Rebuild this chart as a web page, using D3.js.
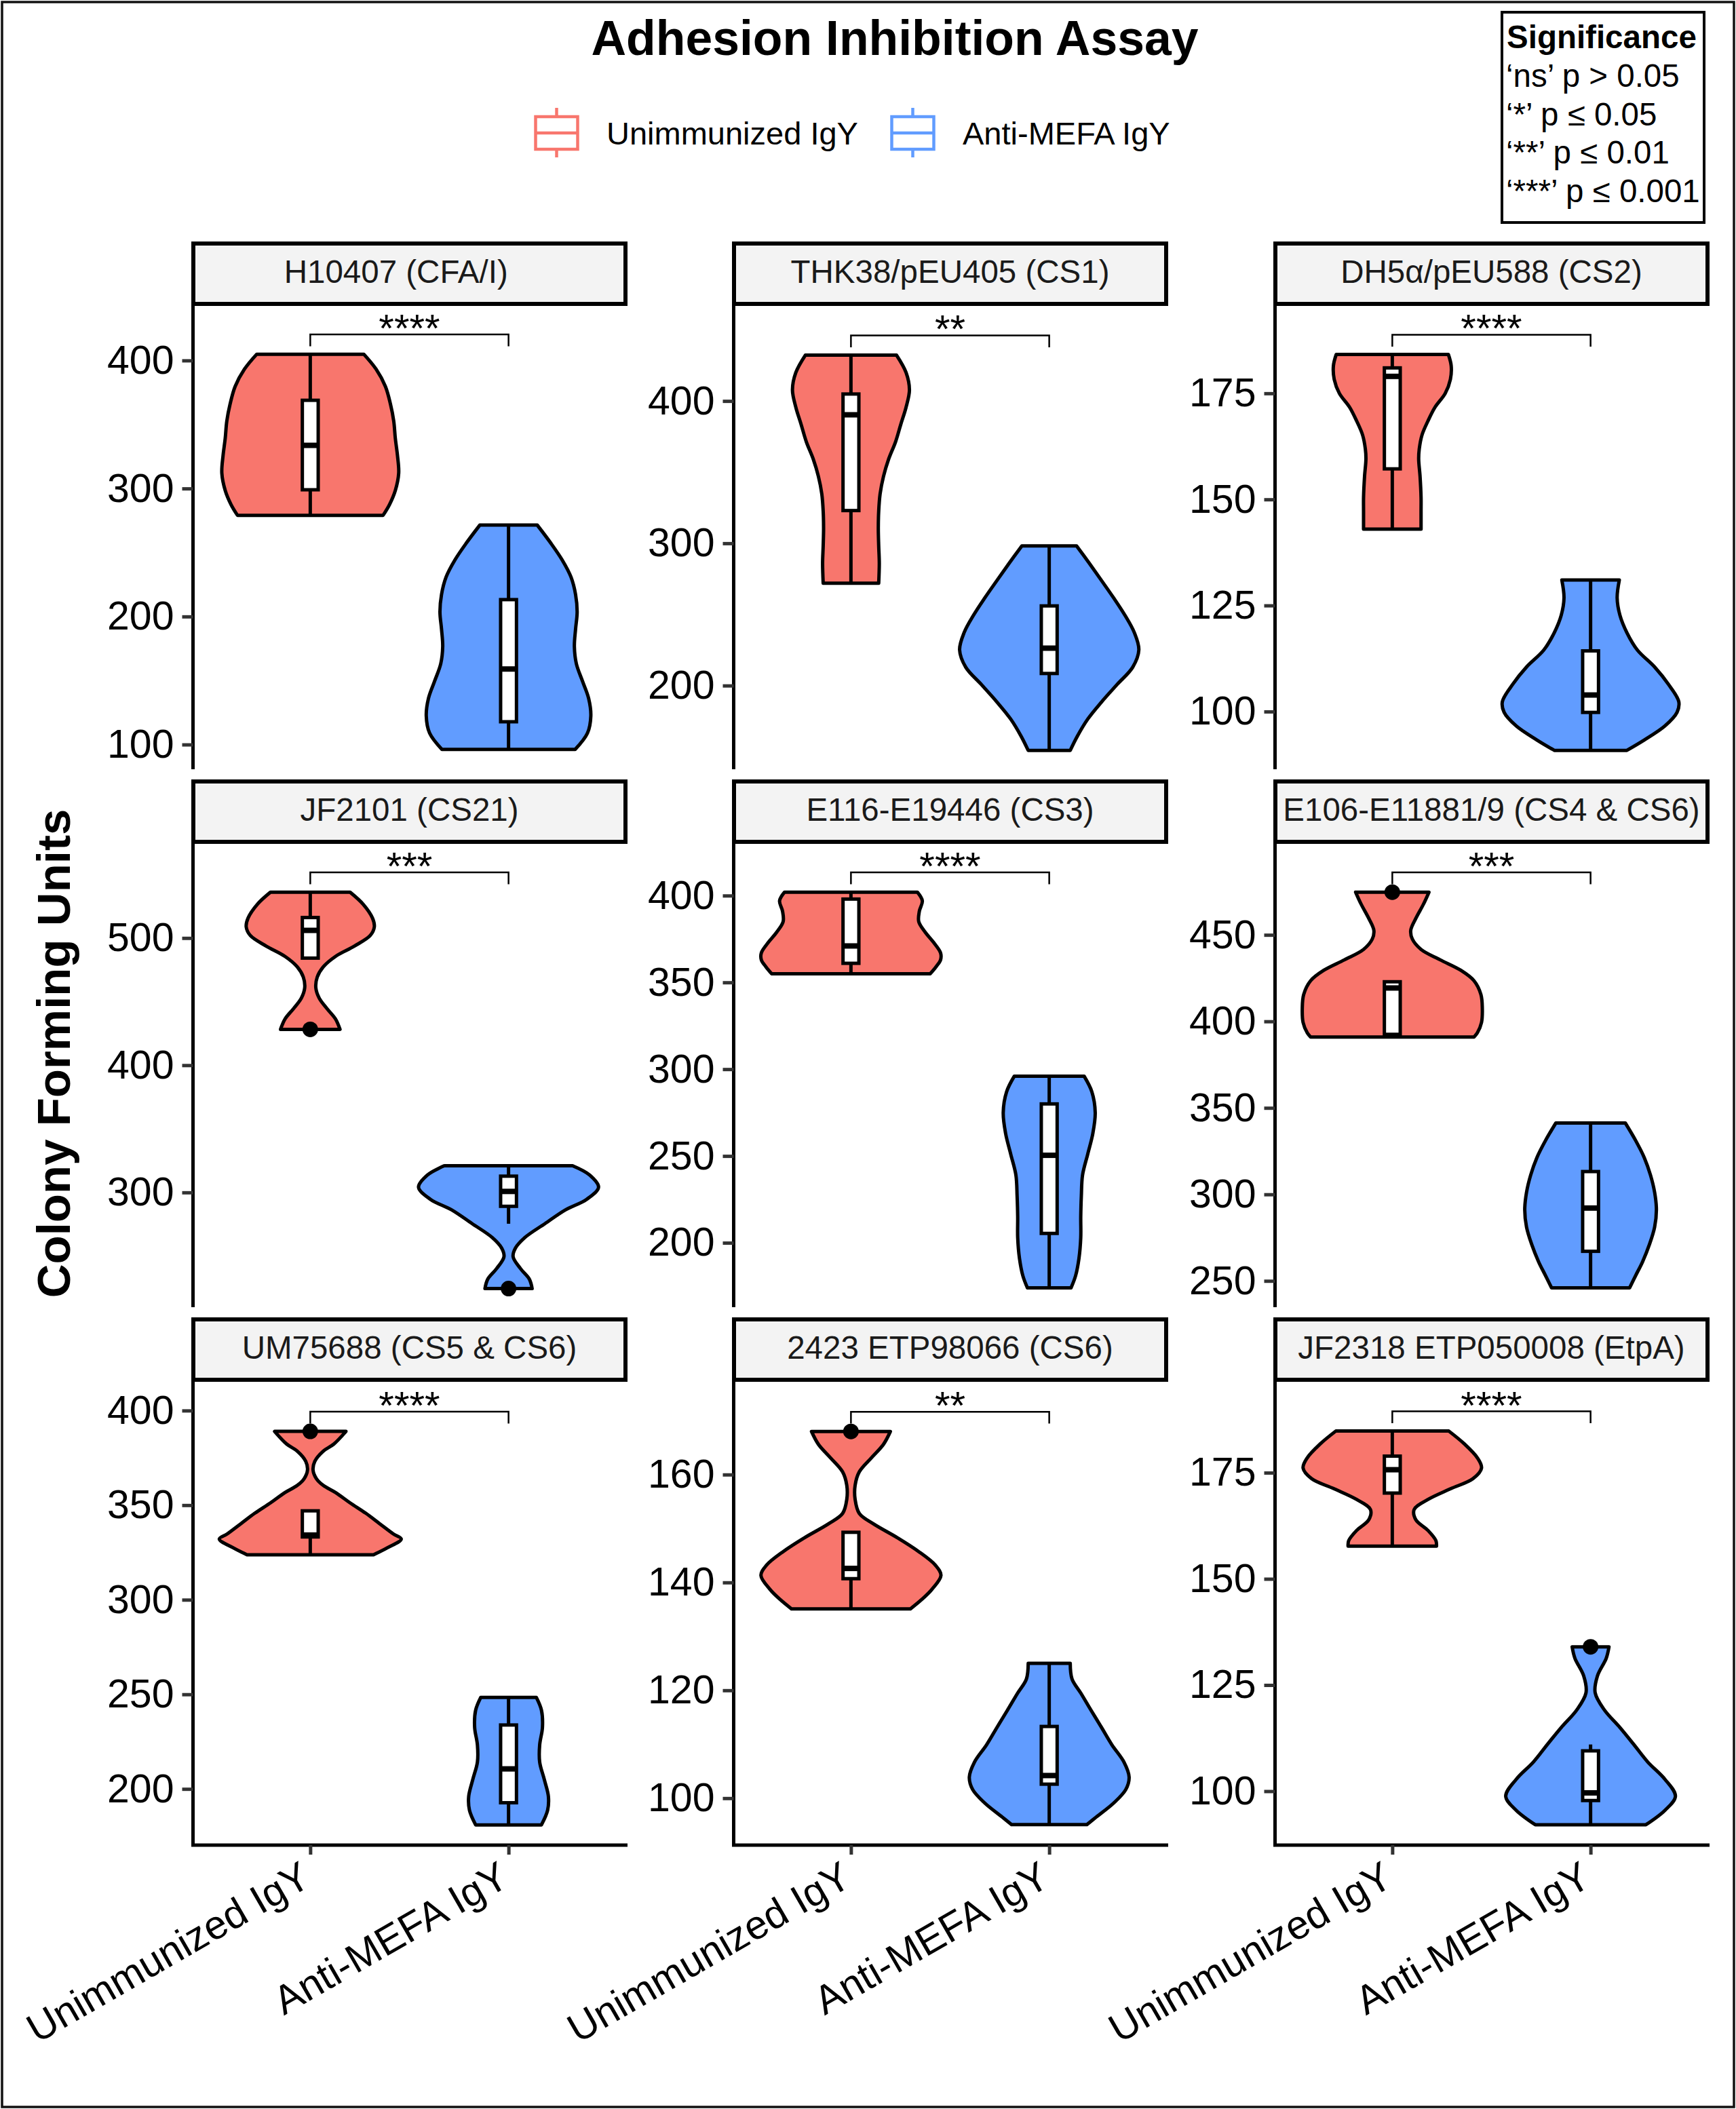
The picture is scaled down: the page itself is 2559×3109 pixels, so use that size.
<!DOCTYPE html>
<html><head><meta charset="utf-8">
<script src="https://cdn.jsdelivr.net/npm/d3@7/dist/d3.min.js"></script>
<style>body{margin:0;background:#fff}svg{display:block}</style>
</head><body><div id="chart"></div>
<script>
// ---------------- DATA ----------------
const groups = ["Unimmunized IgY", "Anti-MEFA IgY"];
const panelTitles = ["H10407 (CFA/I)\u00a0\u00a0\u00a0", "THK38/pEU405 (CS1)", "DH5\u03b1/pEU588 (CS2)",
  "JF2101 (CS21)", "E116-E19446 (CS3)", "E106-E11881/9 (CS4 & CS6)",
  "UM75688 (CS5 & CS6)", "2423 ETP98066 (CS6)", "JF2318 ETP050008 (EtpA)"];
const sigLabels = ["****", "**", "****", "***", "****", "***", "****", "**", "****"];
const yDomains = [[80.7, 442.6], [141.2, 466.8], [86.4, 195.6], [209.8, 574.0], [162.9, 429.8],
  [234.8, 502.6], [170.3, 415.2], [91.3, 177.2], [87.3, 196.4]];
const yTicks = [[100, 200, 300, 400], [200, 300, 400], [100, 125, 150, 175], [300, 400, 500],
  [200, 250, 300, 350, 400], [250, 300, 350, 400, 450], [200, 250, 300, 350, 400],
  [100, 120, 140, 160], [100, 125, 150, 175]];
// box stats: [lower whisker, Q1, median, Q3, upper whisker]
const boxRed = [[279.0, 299.0, 333.7, 368.9, 404.9], [271.9, 323.0, 390.3, 404.9, 432.2],
  [143.0, 157.2, 179.0, 181.0, 184.1], [484.2, 484.2, 506.0, 516.1, 536.0],
  [355, 361, 371, 398, 402], [391.0, 392.5, 419.3, 422.9, 422.9],
  [323.8, 333.2, 334.2, 347.0, 347.0], [135.1, 140.7, 142.6, 149.3, 149.3],
  [157.7, 170.2, 175.7, 178.9, 184.8]];
const boxBlue = [[96.2, 117.8, 159.0, 213.2, 271.4], [154.4, 208.5, 226.3, 256.0, 298.2],
  [90.9, 99.8, 103.9, 114.3, 131.0], [275.4, 289.1, 300.8, 312.8, 321.0],
  [174, 205.4, 250.4, 280, 296], [246.0, 267.1, 292.1, 313.2, 341.3],
  [181.0, 192.7, 210.6, 233.8, 248.4], [95.1, 102.6, 104.2, 113.3, 125.0],
  [92.1, 97.8, 99.6, 109.5, 111.0]];
const outliersRed = [[], [], [], [428.2], [], [474.7], [389.0], [168.0], []];
const outliersBlue = [[], [], [], [224.4], [], [], [], [], [134.0]];
// violin outlines: [value, half-width in category units]
const violinRed = [
  [[404.9,.270],[393.2,.332],[379.7,.379],[366.2,.404],[352.6,.421],[339.1,.429],[325.5,.440],[312.0,.446],[298.5,.429],[287.6,.400],[279.0,.367]],
  [[432.2,.230],[420.0,.278],[407.8,.295],[395.6,.278],[383.4,.251],[371.3,.225],[359.1,.190],[346.9,.164],[334.7,.147],[322.5,.140],[310.4,.138],[298.2,.140],[286.0,.143],[271.9,.140]],
  [[184.15,.283],[181.5,.297],[178.3,.293],[175,.267],[171.7,.215],[168.5,.180],[165.2,.150],[161.9,.136],[159.5,.133],[155.4,.140],[150.5,.145],[147.2,.145],[143.0,.145]],
  [[536.0,.201],[526.5,.267],[515.6,.314],[508.7,.323],[501.9,.302],[493.7,.223],[485.5,.127],[477.4,.066],[469.2,.035],[461.0,.028],[452.8,.045],[444.6,.084],[436.4,.127],[428.2,.150]],
  [[402,.335],[397,.360],[391,.345],[385,.342],[379,.374],[373,.417],[367,.452],[363,.452],[359,.429],[355,.400]],
  [[474.7,.185],[467.7,.157],[459.6,.119],[452.6,.093],[447.6,.101],[441.6,.145],[435.6,.241],[429.5,.346],[423.5,.412],[415.5,.447],[407.5,.454],[399.4,.450],[393.4,.429],[391.0,.412]],
  [[389.0,.180],[382.3,.119],[378.6,.066],[373.2,.023],[368.6,.014],[364.0,.031],[360.4,.066],[356.7,.127],[351.2,.201],[345.8,.279],[340.3,.349],[334.8,.419],[332.1,.459],[327.5,.389],[323.8,.319]],
  [[168.0,.199],[165.6,.164],[163.1,.103],[160.5,.042],[158.0,.021],[155.4,.021],[152.8,.042],[150.9,.112],[148.3,.234],[145.8,.339],[143.2,.426],[141.3,.454],[138.7,.408],[136.8,.356],[135.1,.300]],
  [[184.8,.285],[181.8,.363],[178.5,.429],[176.1,.450],[173.6,.407],[171.2,.293],[168.7,.180],[166.3,.110],[163.9,.119],[161.4,.180],[159.0,.220],[157.7,.223]]
];
const violinBlue = [
  [[271.4,.145],[257.8,.211],[244.3,.270],[230.8,.315],[217.2,.338],[203.7,.346],[190.1,.338],[176.6,.332],[163.1,.342],[149.5,.373],[136.0,.404],[122.4,.415],[108.9,.398],[96.2,.336]],
  [[298.2,.138],[286.0,.202],[273.8,.264],[261.6,.325],[249.4,.382],[237.3,.429],[225.1,.452],[212.9,.421],[200.7,.342],[188.5,.264],[176.4,.194],[164.2,.141],[154.4,.106]],
  [[131.0,.145],[126.8,.134],[122.7,.148],[118.6,.183],[114.5,.236],[110.5,.323],[106.4,.393],[102.3,.445],[99.8,.436],[96.6,.375],[93.3,.271],[90.85,.183]],
  [[321.0,.323],[313.6,.410],[304.1,.454],[294.5,.393],[286.4,.288],[275.4,.183],[264.5,.082],[256.3,.035],[249.5,.023],[240.0,.061],[231.8,.105],[224.4,.119]],
  [[296,.176],[287,.215],[275,.232],[263,.220],[251,.194],[239,.168],[227,.162],[215,.159],[203,.159],[191,.150],[181,.133],[174,.110]],
  [[341.3,.175],[331.2,.227],[321.2,.271],[311.2,.302],[301.2,.323],[291.1,.332],[281.1,.323],[271.1,.297],[261.0,.262],[253.0,.227],[246.0,.197]],
  [[248.4,.140],[241.6,.166],[232.5,.171],[223.3,.157],[214.2,.157],[205.1,.180],[196.0,.201],[188.7,.197],[181.0,.166]],
  [[125.0,.106],[122.1,.115],[119.5,.159],[116.3,.211],[113.1,.264],[109.9,.316],[106.7,.377],[103.9,.403],[101.6,.386],[99.1,.325],[96.5,.237],[95.1,.190]],
  [[134.0,.093],[131.3,.079],[127.2,.035],[123.2,.023],[119.1,.070],[115.0,.148],[111.0,.218],[106.9,.288],[102.8,.375],[98.8,.428],[95.5,.375],[92.1,.279]]
];
const sigLegendTitle = "Significance";
const sigLegendLines = ["\u2018ns\u2019 p > 0.05", "\u2018*\u2019 p \u2264 0.05", "\u2018**\u2019 p \u2264 0.01", "\u2018***\u2019 p \u2264 0.001"];
const fills = ["#F8766D", "#619CFF"];

// ---------------- LAYOUT ----------------
const W = 2559, H = 3109;
const FONT = "'Liberation Sans', Arial, Helvetica, sans-serif";
const colLeft = [282, 1079, 1877], panelW = 643;
const stripTop = [356, 1149, 1942], stripH = 95, panelH = 683;

const svg = d3.select("#chart").append("svg").attr("width", W).attr("height", H)
  .style("font-family", FONT);
svg.append("rect").attr("width", W).attr("height", H).attr("fill", "#fff");
svg.append("rect").attr("x", 3).attr("y", 3).attr("width", W - 6).attr("height", H - 6)
  .attr("fill", "none").attr("stroke", "#111").attr("stroke-width", 3.5);

// title
svg.append("text").attr("x", 1319).attr("y", 81).attr("text-anchor", "middle")
  .attr("font-size", 71.5).attr("font-weight", "bold").text("Adhesion Inhibition Assay");

// legend
const legX = [820.5, 1345.5], legTextX = [894, 1419];
groups.forEach((g, i) => {
  const lg = svg.append("g");
  lg.append("line").attr("x1", legX[i]).attr("x2", legX[i]).attr("y1", 159).attr("y2", 232)
    .attr("stroke", fills[i]).attr("stroke-width", 4.5);
  lg.append("rect").attr("x", legX[i] - 31).attr("y", 172).attr("width", 62).attr("height", 48)
    .attr("fill", "#fff").attr("stroke", fills[i]).attr("stroke-width", 4.5);
  lg.append("line").attr("x1", legX[i] - 31).attr("x2", legX[i] + 31).attr("y1", 196).attr("y2", 196)
    .attr("stroke", fills[i]).attr("stroke-width", 4.5);
  lg.append("text").attr("x", legTextX[i]).attr("y", 213).attr("font-size", 47).text(g);
});

// significance box
svg.append("rect").attr("x", 2214).attr("y", 18).attr("width", 298).attr("height", 310)
  .attr("fill", "#fff").attr("stroke", "#000").attr("stroke-width", 4);
svg.append("text").attr("x", 2221).attr("y", 71).attr("font-size", 47.5).attr("font-weight", "bold")
  .text(sigLegendTitle);
sigLegendLines.forEach((t, i) => {
  svg.append("text").attr("x", 2220).attr("y", 128 + i * 56.7).attr("font-size", 47.5).text(t);
});

// y-axis title
svg.append("text").attr("transform", "translate(103,1553) rotate(-90)").attr("text-anchor", "middle")
  .attr("font-size", 69).attr("font-weight", "bold").text("Colony Forming Units");

const violinArea = (xs, cx, unit) => d3.area()
  .y(d => xs(d[0]))
  .x0(d => cx - d[1] * unit)
  .x1(d => cx + d[1] * unit)
  .curve(d3.curveCatmullRom.alpha(0.5));

for (let i = 0; i < 9; i++) {
  const r = Math.floor(i / 3), c = i % 3;
  const x0 = colLeft[c], sTop = stripTop[r], y0 = sTop + stripH, y1 = y0 + panelH;
  const ys = d3.scaleLinear().domain(yDomains[i]).range([y1, y0]);
  const xs = d3.scalePoint().domain(groups).range([x0, x0 + panelW]).padding(0.6);
  const unit = xs.step();
  const g = svg.append("g");

  // strip
  g.append("rect").attr("x", x0 + 3).attr("y", sTop + 3).attr("width", panelW - 6).attr("height", stripH - 6)
    .attr("fill", "#F3F3F3").attr("stroke", "#000").attr("stroke-width", 6);
  g.append("text").attr("x", x0 + panelW / 2).attr("y", sTop + 61).attr("text-anchor", "middle")
    .attr("font-size", 47.5).attr("fill", "#1a1a1a").attr("xml:space", "preserve").text(panelTitles[i]);

  // y axis
  const ya = g.append("g").attr("transform", `translate(${x0 + 2.5},0)`)
    .call(d3.axisLeft(ys).tickValues(yTicks[i]).tickSize(16).tickSizeOuter(0).tickPadding(12));
  ya.select(".domain").attr("stroke", "#000").attr("stroke-width", 5)
    .attr("d", `M0,${y0}V${y1}`);
  ya.selectAll(".tick line").attr("stroke", "#333").attr("stroke-width", 5);
  ya.selectAll(".tick text").attr("font-size", 59).attr("fill", "#000").attr("font-family", FONT);

  // x axis (bottom row only)
  if (r === 2) {
    const xa = g.append("g").attr("transform", `translate(0,${y1})`)
      .call(d3.axisBottom(xs).tickSize(14).tickSizeOuter(0));
    xa.select(".domain").attr("stroke", "#000").attr("stroke-width", 5)
      .attr("d", `M${x0},0H${x0 + panelW}`);
    xa.selectAll(".tick line").attr("stroke", "#333").attr("stroke-width", 5);
    xa.selectAll(".tick text").remove();
    groups.forEach(gr => {
      g.append("text").attr("transform", `translate(${xs(gr) + 4},${y1 + 58}) rotate(-30)`)
        .attr("text-anchor", "end").attr("font-size", 59.5).attr("fill", "#000").text(gr);
    });
  }

  const violins = [violinRed[i], violinBlue[i]];
  const boxes = [boxRed[i], boxBlue[i]];
  const outs = [outliersRed[i], outliersBlue[i]];
  groups.forEach((gr, k) => {
    const cx = xs(gr);
    g.append("path").attr("d", violinArea(ys, cx, unit)(violins[k]))
      .attr("fill", fills[k]).attr("stroke", "#000").attr("stroke-width", 5).attr("stroke-linejoin", "round");
    const b = boxes[k];
    const bw = 0.08 * unit;
    g.append("line").attr("x1", cx).attr("x2", cx).attr("y1", ys(b[4])).attr("y2", ys(b[3]))
      .attr("stroke", "#000").attr("stroke-width", 5);
    g.append("line").attr("x1", cx).attr("x2", cx).attr("y1", ys(b[1])).attr("y2", ys(b[0]))
      .attr("stroke", "#000").attr("stroke-width", 5);
    g.append("rect").attr("x", cx - bw / 2).attr("y", ys(b[3])).attr("width", bw)
      .attr("height", Math.max(0.5, ys(b[1]) - ys(b[3])))
      .attr("fill", "#fff").attr("stroke", "#000").attr("stroke-width", 5);
    g.append("line").attr("x1", cx - bw / 2).attr("x2", cx + bw / 2).attr("y1", ys(b[2])).attr("y2", ys(b[2]))
      .attr("stroke", "#000").attr("stroke-width", 8);
    outs[k].forEach(o => {
      g.append("circle").attr("cx", cx).attr("cy", ys(o)).attr("r", 11.5).attr("fill", "#000");
    });
  });

  // significance bracket (ggsignif-style placement from the data range)
  const allVals = violins.flat().map(d => d[0]).concat(outs.flat());
  const mn = d3.min(allVals), mx = d3.max(allVals), R = mx - mn;
  const yPos = mx + 0.05 * R, tip = yPos - 0.03 * R;
  const xa1 = xs(groups[0]), xa2 = xs(groups[1]);
  g.append("path")
    .attr("d", `M${xa1},${ys(tip)}V${ys(yPos)}H${xa2}V${ys(tip)}`)
    .attr("fill", "none").attr("stroke", "#000").attr("stroke-width", 2.5);
  g.append("text").attr("x", (xa1 + xa2) / 2).attr("y", ys(yPos) + 11).attr("text-anchor", "middle")
    .attr("font-size", 58).text(sigLabels[i]);
}
</script></body></html>
